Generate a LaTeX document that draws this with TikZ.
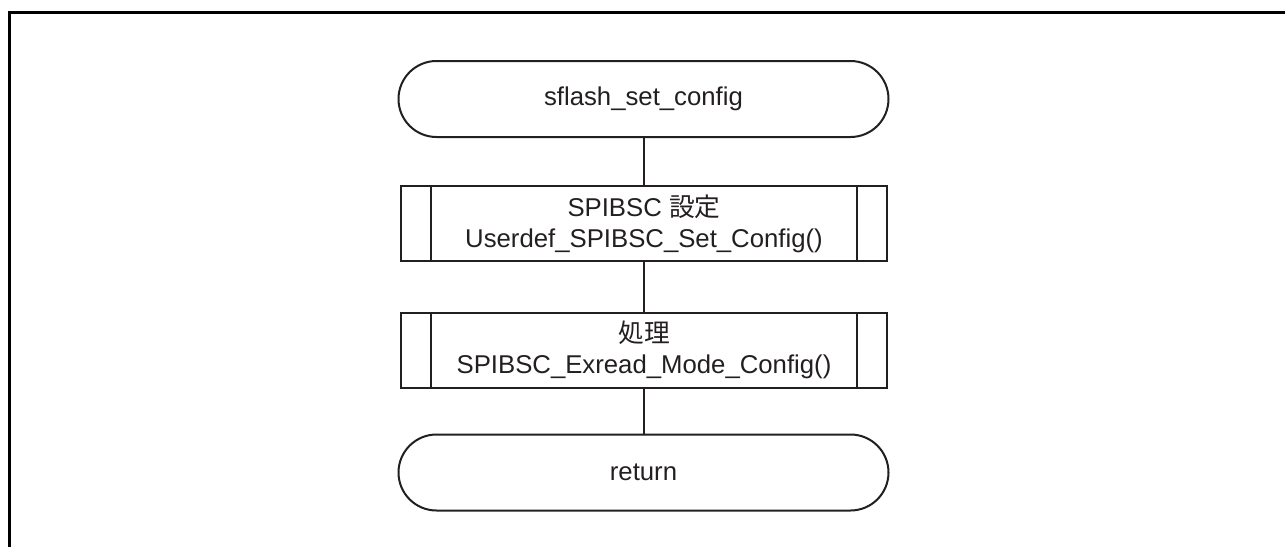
\documentclass[tikz,border=0pt]{standalone}
\usepackage{fontspec}
\setmainfont{Liberation Sans}
\newfontfamily\cjk{Noto Sans CJK JP}
\usetikzlibrary{shapes.misc}
\definecolor{ink}{RGB}{35,31,32}
\tikzset{
  term/.style={rounded rectangle, rounded rectangle arc length=180, draw=ink, line width=1.5pt,
    minimum width=367.5pt, minimum height=57pt, inner sep=0pt, outer sep=0pt,
    text=ink, font=\fontsize{19.3}{23.2}\selectfont},
  procbox/.style={rectangle, draw=ink, line width=1.5pt,
    minimum width=364.5pt, minimum height=56.25pt, inner sep=0pt, outer sep=0pt,
    align=center, text=ink, font=\fontsize{19.3}{23.2}\selectfont},
  conn/.style={draw=ink, line width=0.8pt},
  sideline/.style={draw=ink, line width=1.5pt},
  frameline/.style={draw=black, line width=2.25pt}
}
\begin{document}
\begin{tikzpicture}[x=0.75pt,y=-0.75pt]
\useasboundingbox (0,0) rectangle (1285,547);
\coordinate (fa) at (9.5,547);
\coordinate (fb) at (9.5,12.5);
\coordinate (fc) at (1285,12.5);
\draw[frameline] (fa) -- (fb) -- (fc);

\node[term] (start) at (643.5,99) {sflash\_set\_config};
\node[procbox] (p1) at (644,223.5) {SPIBSC {\cjk 設定}\\Userdef\_SPIBSC\_Set\_Config()};
\node[procbox] (p2) at (644,350) {{\cjk 処理}\\SPIBSC\_Exread\_Mode\_Config()};
\node[term] (ret) at (643.5,472.5) {return};

\draw[sideline] ([xshift=22.5pt]p1.north west) -- ([xshift=22.5pt]p1.south west);
\draw[sideline] ([xshift=-22.5pt]p1.north east) -- ([xshift=-22.5pt]p1.south east);
\draw[sideline] ([xshift=22.5pt]p2.north west) -- ([xshift=22.5pt]p2.south west);
\draw[sideline] ([xshift=-22.5pt]p2.north east) -- ([xshift=-22.5pt]p2.south east);

\draw[conn] (p1.north |- start.south) -- (p1.north);
\draw[conn] (p1.south) -- (p2.north);
\draw[conn] (p2.south) -- (p2.south |- ret.north);
\end{tikzpicture}
\end{document}
